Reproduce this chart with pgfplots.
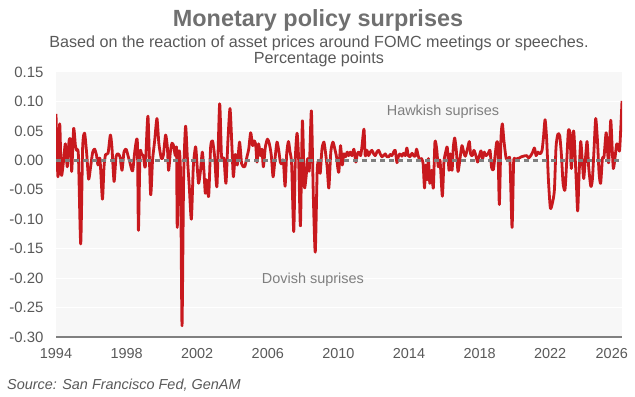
\documentclass[border=0pt]{standalone}
\usepackage{pgfplots}
\pgfplotsset{compat=1.18}
\usepackage{fontspec}
\setmainfont{Liberation Sans}
\definecolor{linered}{RGB}{200,25,30}
\definecolor{txtgray}{RGB}{89,89,89}
\definecolor{titlegray}{RGB}{112,112,112}
\definecolor{anngray}{RGB}{127,127,127}
\definecolor{bggray}{RGB}{247,247,247}
\definecolor{axgray}{RGB}{128,128,128}
\begin{document}
\begin{tikzpicture}[x=1bp,y=1bp]
\path[use as bounding box] (0,0) rectangle (635,396);
\node[anchor=base, text=titlegray, font=\fontsize{23.5}{26}\selectfont\bfseries] at (318,370) {Monetary policy surprises};
\node[anchor=base, text=txtgray, font=\fontsize{16.2}{18}\selectfont] at (319,349) {Based on the reaction of asset prices around FOMC meetings or speeches.};
\node[anchor=base, text=txtgray, font=\fontsize{16.2}{18}\selectfont] at (319,333) {Percentage points};
\node[anchor=base west, text=txtgray, font=\fontsize{14.5}{16}\selectfont\itshape, inner sep=0pt] at (7,7) {Source: San Francisco Fed, GenAM};
\begin{axis}[
  at={(56bp,59bp)}, anchor=south west, scale only axis,
  width=566bp, height=265bp,
  xmin=1994, xmax=2026.07, ymin=-0.30, ymax=0.15,
  xtick={1994,1998,2002,2006,2010,2014,2018,2022},
  extra x ticks={2026},
  extra x tick style={x tick label style={xshift=-9bp}},
  ytick={-0.3,-0.25,-0.2,-0.15,-0.1,-0.05,0,0.05,0.1,0.15},
  axis background/.style={fill=bggray},
  axis line style={draw=none},
  major tick length=0pt,
  ymajorgrids, major grid style={white, line width=1bp},
  /pgf/number format/assume math mode=true,
  ticklabel style={text=txtgray},
  x tick label style={font=\fontsize{14.5}{16}\selectfont, /pgf/number format/1000 sep={}, yshift=-8bp},
  y tick label style={font=\fontsize{15}{16}\selectfont, /pgf/number format/fixed, /pgf/number format/fixed zerofill, /pgf/number format/precision=2, xshift=-9bp},
]
\addplot[linered, line width=2.8bp, smooth, tension=0.4, line join=round] coordinates {
(1994.00,0.079) (1994.11,-0.028) (1994.21,0.062) (1994.30,-0.025) (1994.42,-0.003) (1994.53,0.028)
(1994.64,-0.011) (1994.74,0.033) (1994.83,0.033) (1994.89,-0.019) (1995.00,0.054) (1995.10,0.025)
(1995.17,0.017) (1995.27,0.008) (1995.40,-0.142) (1995.51,0.022) (1995.62,0.046) (1995.74,0.011)
(1995.85,-0.032) (1995.96,-0.011) (1996.08,0.014) (1996.19,0.019) (1996.30,0.008) (1996.38,-0.008)
(1996.49,0.003) (1996.63,-0.066) (1996.72,-0.011) (1996.81,0.010) (1996.95,0.012) (1997.08,0.043)
(1997.17,0.022) (1997.29,-0.036) (1997.40,0.006) (1997.51,0.011) (1997.63,0.006) (1997.74,-0.017)
(1997.85,0.014) (1997.97,0.019) (1998.08,0.008) (1998.19,-0.004) (1998.34,-0.018) (1998.48,0.019)
(1998.61,0.031) (1998.67,-0.119) (1998.76,0.011) (1998.85,0.011) (1998.95,0.008) (1999.06,-0.011)
(1999.21,0.075) (1999.36,-0.058) (1999.47,0.000) (1999.59,0.033) (1999.72,0.071) (1999.83,0.028)
(1999.97,0.003) (2000.08,0.008) (2000.21,0.043) (2000.31,0.022) (2000.38,-0.017) (2000.48,0.014)
(2000.57,0.029) (2000.66,0.025) (2000.76,0.008) (2000.83,0.019) (2000.87,-0.114) (2000.97,0.014)
(2001.06,-0.028) (2001.14,-0.281) (2001.23,-0.033) (2001.34,0.058) (2001.44,0.006) (2001.55,-0.044)
(2001.67,-0.100) (2001.78,-0.011) (2001.91,0.023) (2002.00,-0.011) (2002.08,-0.039) (2002.19,-0.017)
(2002.29,0.014) (2002.38,-0.017) (2002.46,-0.056) (2002.53,-0.033) (2002.65,-0.061) (2002.76,0.022)
(2002.87,0.033) (2002.99,0.006) (2003.12,-0.044) (2003.27,0.096) (2003.37,0.011) (2003.44,0.000)
(2003.52,0.003) (2003.63,-0.039) (2003.74,0.033) (2003.86,0.088) (2003.97,0.022) (2004.05,-0.028)
(2004.16,0.010) (2004.27,-0.008) (2004.40,0.031) (2004.52,-0.006) (2004.69,-0.011) (2004.82,0.006)
(2004.92,0.019) (2005.03,0.047) (2005.14,0.025) (2005.22,0.033) (2005.31,0.028) (2005.39,-0.003)
(2005.48,0.028) (2005.58,0.008) (2005.67,0.019) (2005.75,-0.011) (2005.86,0.022) (2005.98,0.036)
(2006.09,0.028) (2006.20,0.008) (2006.30,-0.028) (2006.41,0.003) (2006.52,0.031) (2006.62,0.017)
(2006.71,-0.003) (2006.79,-0.006) (2006.88,0.000) (2006.98,-0.044) (2007.07,0.011) (2007.17,0.032)
(2007.26,0.014) (2007.35,-0.006) (2007.47,-0.121) (2007.56,0.003) (2007.66,0.046) (2007.75,0.000)
(2007.85,-0.111) (2007.96,0.067) (2008.07,-0.044) (2008.17,-0.028) (2008.26,0.003) (2008.35,-0.017)
(2008.47,0.084) (2008.58,-0.061) (2008.69,-0.156) (2008.80,-0.017) (2008.90,0.000) (2008.97,-0.022)
(2009.07,0.019) (2009.18,0.031) (2009.28,0.011) (2009.37,-0.014) (2009.46,-0.047) (2009.57,0.014)
(2009.69,0.031) (2009.80,0.019) (2009.90,0.005) (2009.97,-0.014) (2010.03,-0.019) (2010.12,0.025)
(2010.22,-0.008) (2010.31,0.011) (2010.41,0.006) (2010.50,0.014) (2010.58,0.008) (2010.67,0.014)
(2010.77,0.008) (2010.88,0.019) (2010.99,-0.003) (2011.07,0.011) (2011.16,0.014) (2011.26,0.008)
(2011.33,0.022) (2011.45,0.053) (2011.52,0.008) (2011.62,0.017) (2011.71,0.008) (2011.81,0.014)
(2011.90,0.017) (2012.00,0.011) (2012.09,0.008) (2012.18,0.014) (2012.28,0.017) (2012.37,0.011)
(2012.47,0.006) (2012.56,0.008) (2012.66,0.011) (2012.75,0.006) (2012.85,0.006) (2012.94,0.010)
(2013.03,0.008) (2013.13,0.014) (2013.22,0.017) (2013.32,-0.004) (2013.41,0.008) (2013.50,0.011)
(2013.60,0.007) (2013.69,0.012) (2013.79,0.008) (2013.88,0.021) (2013.96,0.008) (2014.05,0.006)
(2014.17,0.012) (2014.26,0.008) (2014.35,0.007) (2014.43,0.019) (2014.52,0.008) (2014.61,0.000)
(2014.71,0.003) (2014.80,-0.006) (2014.88,-0.047) (2014.95,-0.008) (2015.03,-0.033) (2015.10,0.003)
(2015.18,-0.039) (2015.28,-0.017) (2015.38,-0.047) (2015.47,0.031) (2015.57,0.019) (2015.66,-0.011)
(2015.76,0.000) (2015.89,-0.061) (2015.98,-0.003) (2016.08,0.014) (2016.17,0.022) (2016.27,-0.017)
(2016.34,0.011) (2016.44,-0.017) (2016.51,0.022) (2016.59,0.038) (2016.68,0.017) (2016.78,-0.019)
(2016.89,0.003) (2017.00,0.025) (2017.10,0.014) (2017.19,0.007) (2017.31,0.019) (2017.42,0.032)
(2017.49,0.011) (2017.59,0.008) (2017.68,0.017) (2017.80,0.007) (2017.89,-0.003) (2017.99,0.008)
(2018.08,0.016) (2018.17,0.003) (2018.27,0.014) (2018.36,0.008) (2018.48,0.011) (2018.59,0.017)
(2018.68,-0.012) (2018.78,-0.016) (2018.87,0.006) (2018.97,0.031) (2019.04,0.022) (2019.12,-0.075)
(2019.21,0.036) (2019.29,0.062) (2019.38,0.033) (2019.50,0.004) (2019.61,0.000) (2019.72,0.000)
(2019.84,-0.114) (2019.93,-0.003) (2020.03,0.001) (2020.14,0.003) (2020.25,0.004) (2020.37,0.006)
(2020.48,0.007) (2020.67,0.008) (2020.78,0.004) (2020.90,0.008) (2021.01,0.014) (2021.11,0.021)
(2021.20,0.008) (2021.31,0.014) (2021.43,0.011) (2021.54,0.017) (2021.62,0.039) (2021.71,0.069)
(2021.80,0.036) (2021.90,-0.033) (2022.01,-0.081) (2022.13,-0.072) (2022.24,-0.050) (2022.33,0.022)
(2022.43,0.044) (2022.54,0.042) (2022.64,0.008) (2022.73,-0.039) (2022.84,-0.050) (2022.94,0.000)
(2023.03,0.050) (2023.13,0.044) (2023.20,-0.014) (2023.32,0.050) (2023.39,0.022) (2023.49,-0.044)
(2023.56,-0.086) (2023.64,-0.022) (2023.73,0.032) (2023.83,-0.006) (2023.90,-0.031) (2023.99,0.000)
(2024.09,0.032) (2024.18,-0.011) (2024.30,-0.044) (2024.39,-0.033) (2024.49,0.022) (2024.58,0.071)
(2024.68,0.033) (2024.77,-0.022) (2024.86,-0.039) (2024.96,0.003) (2025.05,0.006) (2025.17,0.047)
(2025.26,0.011) (2025.32,-0.003) (2025.43,0.068) (2025.51,0.022) (2025.58,-0.014) (2025.68,0.006)
(2025.77,0.028) (2025.87,0.022) (2025.94,0.019) (2026.07,0.101)
};
\addplot[anngray, line width=2.5bp, dash pattern=on 5bp off 4bp, forget plot] coordinates {(1994,0) (2026.07,0)};
\draw[axgray, line width=1.2bp] (rel axis cs:0,0) -- (rel axis cs:1,0);
\node[text=anngray, font=\fontsize{14.5}{16}\selectfont] at (axis cs:2015.93,0.083) {Hawkish suprises};
\node[text=anngray, font=\fontsize{14.5}{16}\selectfont] at (axis cs:2008.56,-0.202) {Dovish suprises};
\end{axis}
\end{tikzpicture}
\end{document}
